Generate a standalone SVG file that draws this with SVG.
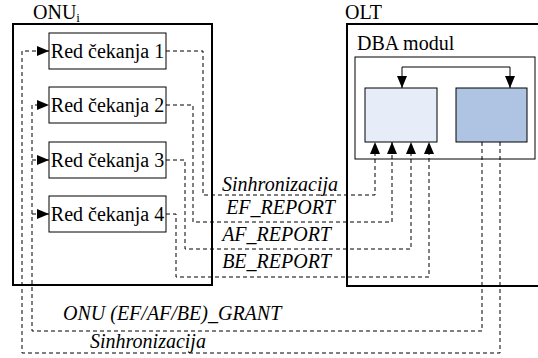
<svg xmlns="http://www.w3.org/2000/svg" width="538" height="358" viewBox="0 0 538 358">
<style>
.t{font-family:"Liberation Serif","Times New Roman",serif;font-size:20px;fill:#000}
.i{font-style:italic}
.big{fill:none;stroke:#000;stroke-width:2}
.box{fill:#fff;stroke:#000;stroke-width:1}
.d{fill:none;stroke:#000;stroke-width:1;stroke-dasharray:4,3}
.s{fill:none;stroke:#000;stroke-width:1}
</style>
<defs>
<marker id="ah" markerUnits="userSpaceOnUse" markerWidth="12" markerHeight="12" viewBox="0 0 12 12" refX="12" refY="6" orient="auto">
<path d="M0,1 L12,6 L0,11 Z" fill="#000"/>
</marker>
</defs>
<rect width="538" height="358" fill="#fff"/>

<g id="onu">
<rect class="big" x="13" y="24" width="199" height="261"/>
<text class="t" x="33" y="19">ONU<tspan font-size="13" dy="3">i</tspan></text>
</g>
<g id="olt">
<rect class="big" x="347" y="24" width="200" height="262"/>
<text class="t" x="345" y="19">OLT</text>
</g>
<g id="dba">
<rect class="s" x="355" y="57" width="180" height="102" fill="#fff"/>
<text class="t" x="357" y="50">DBA modul</text>
</g>
<g id="dba-light">
<rect x="365" y="88" width="72" height="54" fill="#E6EDF8" stroke="#000" stroke-width="1"/>
</g>
<g id="dba-dark">
<rect x="456" y="88" width="71" height="54" fill="#AEC4E2" stroke="#000" stroke-width="1"/>
</g>
<g id="red1">
<rect class="box" x="49" y="33" width="117" height="36"/>
<text class="t" x="107.5" y="58" text-anchor="middle">Red čekanja 1</text>
</g>
<g id="red2">
<rect class="box" x="49" y="87" width="117" height="36"/>
<text class="t" x="107.5" y="112" text-anchor="middle">Red čekanja 2</text>
</g>
<g id="red3">
<rect class="box" x="49" y="142" width="117" height="36"/>
<text class="t" x="107.5" y="167" text-anchor="middle">Red čekanja 3</text>
</g>
<g id="red4">
<rect class="box" x="49" y="196" width="117" height="36"/>
<text class="t" x="107.5" y="221" text-anchor="middle">Red čekanja 4</text>
</g>

<g id="connectors">
<path class="s" d="M402,67 H510" />
<path class="s" d="M402,67 V88" marker-end="url(#ah)"/>
<path class="s" d="M510,67 V88" marker-end="url(#ah)"/>
<path class="d" d="M166,51 H203 V195 H375 V142" marker-end="url(#ah)"/>
<path class="d" d="M166,105 H193 V222 H392 V142" marker-end="url(#ah)"/>
<path class="d" d="M166,160 H185 V249 H411 V142" marker-end="url(#ah)"/>
<path class="d" d="M166,214 H176 V277 H429 V142" marker-end="url(#ah)"/>
<path class="d" d="M500,142 V353 H22 V51 H49" marker-end="url(#ah)"/>
<path class="d" d="M482,142 V331 H32 V105 H49" marker-end="url(#ah)"/>
<path class="d" d="M32,160 H49" marker-end="url(#ah)"/>
<path class="d" d="M32,214 H49" marker-end="url(#ah)"/>
<text class="t i" x="338" y="191" text-anchor="end">Sinhronizacija</text>
<text class="t i" x="335" y="214" text-anchor="end">EF_REPORT</text>
<text class="t i" x="331" y="241" text-anchor="end">AF_REPORT</text>
<text class="t i" x="331" y="268" text-anchor="end">BE_REPORT</text>
<text class="t i" x="63" y="320">ONU (EF/AF/BE)_GRANT</text>
<text class="t i" x="90" y="348">Sinhronizacija</text>
</g>
</svg>
